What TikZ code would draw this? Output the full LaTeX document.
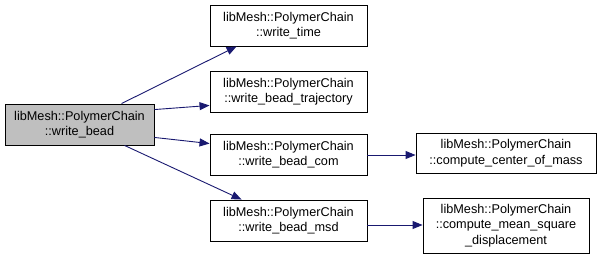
\documentclass[tikz,border=0pt]{standalone}
\usepackage{fontspec}
\setmainfont{Liberation Sans}
\usetikzlibrary{arrows.meta,calc}
\begin{document}
\begin{tikzpicture}[x=1pt,y=-1pt,
  fn/.style={draw=black,line width=0.9pt,fill=white,inner sep=0pt,align=center,
    font=\fontsize{12.7}{15.5}\selectfont},
  cur/.style={fn,fill=black!25},
  call/.style={draw=midnightblue,line width=0.9pt,-{Triangle[length=10pt,width=8pt]}}]
\definecolor{midnightblue}{HTML}{191970}
\useasboundingbox (0,0) rectangle (601,259);
\node[cur,minimum width=149pt,minimum height=41pt] (bead) at (79.5,124.5)
  {libMesh::PolymerChain\\::write\_bead};
\node[fn,minimum width=157pt,minimum height=41pt] (time) at (288.5,25.5)
  {libMesh::PolymerChain\\::write\_time};
\node[fn,minimum width=157pt,minimum height=41pt] (traj) at (288.5,91.5)
  {libMesh::PolymerChain\\::write\_bead\_trajectory};
\node[fn,minimum width=157pt,minimum height=41pt] (com) at (288.5,154.5)
  {libMesh::PolymerChain\\::write\_bead\_com};
\node[fn,minimum width=157pt,minimum height=41pt] (msd) at (288.5,220.5)
  {libMesh::PolymerChain\\::write\_bead\_msd};
\node[fn,minimum width=180pt,minimum height=40pt] (ccom) at (506,153)
  {libMesh::PolymerChain\\::compute\_center\_of\_mass};
\node[fn,minimum width=166pt,minimum height=55pt] (cmsd) at (506,225.5)
  {libMesh::PolymerChain\\::compute\_mean\_square\\\_displacement};
% call edges
\draw[call] ($(bead.north west)+(117,0)$) -- ($(time.south west)+(27,0)$);
\draw[call] ($(bead.north east)+(0,6)$) -- ($(traj.south west)+(0,-7)$);
\draw[call] ($(bead.south east)+(0,-8)$) -- ($(com.north west)+(0,10)$);
\draw[call] ($(bead.south west)+(120,0)$) -- ($(msd.north west)+(32,0)$);
\draw[call] (com.east |- 0,155) -- (ccom.west |- 0,155);
\draw[call] (msd.east |- 0,225) -- (cmsd.west |- 0,225);
\end{tikzpicture}
\end{document}
